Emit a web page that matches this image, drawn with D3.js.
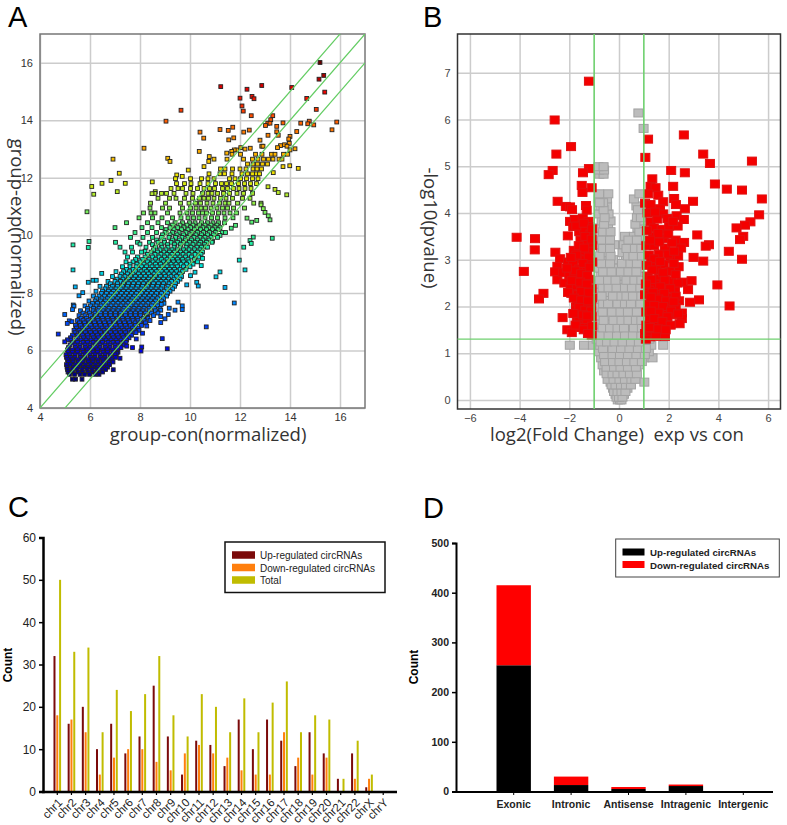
<!DOCTYPE html>
<html>
<head>
<meta charset="utf-8">
<script src="https://cdn.jsdelivr.net/npm/d3@7"></script>
<style>
  html, body { margin: 0; padding: 0; background: #fff; }
  svg { display: block; }
</style>
</head>
<body>
<svg id="chart" width="787" height="825"></svg>
<script>
  const aDense = [
    [5.0, [5.3, 5.42, 5.68]],
    [5.17, [5.18, 5.38, 5.6, 5.78, 5.98, 6.2, 6.36]],
    [5.34, [5.1, 5.28, 5.48, 5.68, 5.88, 6.08, 6.28, 6.48, 6.62]],
    [5.51, [5.06, 5.22, 5.42, 5.62, 5.82, 6.02, 6.22, 6.42, 6.62, 6.78]],
    [5.68, [5.1, 5.3, 5.5, 5.7, 5.9, 6.1, 6.3, 6.5, 6.7, 6.88]],
    [5.85, [5.04, 5.2, 5.4, 5.6, 5.8, 6.0, 6.2, 6.4, 6.6, 6.8, 7.0]],
    [6.02, [5.1, 5.3, 5.5, 5.7, 5.9, 6.1, 6.3, 6.5, 6.7, 6.9, 7.1]],
    [6.19, [5.2, 5.4, 5.6, 5.8, 6.0, 6.2, 6.4, 6.6, 6.8, 7.0, 7.2, 7.36]],
    [6.36, [5.24, 5.44, 5.64, 5.84, 6.04, 6.24, 6.44, 6.64, 6.84, 7.04, 7.24, 7.46]],
    [6.53, [5.3, 5.5, 5.7, 5.9, 6.1, 6.3, 6.5, 6.7, 6.9, 7.1, 7.3, 7.5, 7.66]],
    [6.7, [5.36, 5.56, 5.76, 5.96, 6.16, 6.36, 6.56, 6.76, 6.96, 7.16, 7.36, 7.56, 7.76, 7.96]],
    [6.87, [5.42, 5.62, 5.82, 6.02, 6.22, 6.42, 6.62, 6.82, 7.02, 7.22, 7.42, 7.62, 7.82, 8.06]],
    [7.04, [5.5, 5.72, 5.92, 6.12, 6.32, 6.52, 6.72, 6.92, 7.12, 7.32, 7.52, 7.72, 7.92, 8.16, 8.4]],
    [7.21, [5.56, 5.8, 6.02, 6.22, 6.42, 6.62, 6.82, 7.02, 7.22, 7.42, 7.62, 7.82, 8.02, 8.26, 8.54]],
    [7.38, [5.62, 5.9, 6.12, 6.32, 6.52, 6.72, 6.92, 7.12, 7.32, 7.52, 7.72, 7.92, 8.12, 8.36, 8.62]],
    [7.55, [5.8, 6.02, 6.24, 6.44, 6.64, 6.84, 7.04, 7.24, 7.44, 7.64, 7.84, 8.04, 8.24, 8.46, 8.7]],
    [7.72, [5.96, 6.2, 6.42, 6.62, 6.82, 7.02, 7.22, 7.42, 7.62, 7.82, 8.02, 8.22, 8.42, 8.62, 8.86]],
    [7.89, [6.14, 6.36, 6.58, 6.78, 6.98, 7.18, 7.38, 7.58, 7.78, 7.98, 8.18, 8.38, 8.58, 8.8, 9.06]],
    [8.06, [6.24, 6.5, 6.74, 6.94, 7.14, 7.34, 7.54, 7.74, 7.94, 8.14, 8.34, 8.54, 8.74, 8.96, 9.2]],
    [8.23, [6.4, 6.66, 6.9, 7.1, 7.3, 7.5, 7.7, 7.9, 8.1, 8.3, 8.5, 8.7, 8.9, 9.12, 9.38]],
    [8.4, [6.72, 7.0, 7.22, 7.44, 7.64, 7.84, 8.04, 8.24, 8.44, 8.64, 8.84, 9.04, 9.26, 9.5]],
    [8.57, [6.9, 7.2, 7.4, 7.62, 7.82, 8.02, 8.22, 8.42, 8.62, 8.82, 9.02, 9.24, 9.46, 9.66]],
    [8.74, [7.04, 7.34, 7.58, 7.82, 8.04, 8.26, 8.46, 8.66, 8.86, 9.06, 9.26, 9.46, 9.7]],
    [8.91, [7.3, 7.6, 7.84, 8.06, 8.26, 8.48, 8.68, 8.88, 9.08, 9.28, 9.5, 9.74, 10.0]],
    [9.08, [7.44, 7.72, 8.0, 8.3, 8.52, 8.72, 8.94, 9.14, 9.34, 9.54, 9.74, 9.96, 10.3]],
    [9.25, [7.5, 7.9, 8.2, 8.5, 8.76, 8.98, 9.2, 9.4, 9.6, 9.82, 10.06, 10.36]],
    [9.42, [7.4, 7.7, 8.06, 8.44, 8.7, 8.96, 9.18, 9.38, 9.62, 9.84, 10.08, 10.3, 10.5]],
    [9.59, [7.2, 7.66, 8.24, 8.62, 8.88, 9.12, 9.36, 9.6, 9.84, 10.04, 10.28, 10.46, 10.7]],
    [9.76, [7.02, 7.9, 8.38, 8.72, 8.98, 9.24, 9.5, 9.74, 9.98, 10.2, 10.42, 10.66, 10.88]],
    [9.93, [7.62, 8.12, 8.5, 8.86, 9.16, 9.42, 9.68, 9.92, 10.16, 10.4, 10.6, 10.84, 11.1]],
    [10.1, [7.8, 8.3, 8.66, 9.0, 9.3, 9.56, 9.84, 10.08, 10.3, 10.54, 10.78, 11.02, 11.3]],
    [10.27, [7.0, 8.08, 8.48, 8.86, 9.2, 9.5, 9.76, 10.02, 10.28, 10.52, 10.76, 11.0, 11.2]],
    [10.44, [7.46, 8.3, 8.72, 9.1, 9.4, 9.7, 9.98, 10.2, 10.46, 10.7, 10.92, 11.14, 11.38]],
    [10.61, [7.96, 8.5, 8.88, 9.3, 9.64, 9.92, 10.14, 10.36, 10.6, 10.86, 11.1, 11.4, 11.72]],
    [10.78, [8.14, 8.44, 8.6, 9.1, 9.6, 9.88, 10.1, 10.34, 10.5, 10.66, 10.9, 11.14, 11.36, 11.6, 11.86]],
    [10.95, [8.4, 8.9, 9.18, 9.7, 10.02, 10.24, 10.44, 10.62, 10.84, 11.08, 11.3, 11.5, 11.74, 12.18]],
    [11.12, [8.42, 9.02, 9.62, 9.96, 10.22, 10.42, 10.68, 10.92, 11.18, 11.4, 11.56, 11.9, 12.55, 12.84]],
    [11.29, [8.72, 9.18, 9.44, 9.78, 10.1, 10.38, 10.56, 10.74, 10.96, 11.22, 11.44, 11.7, 12.1, 12.4]],
    [11.46, [8.6, 8.86, 9.06, 9.36, 9.84, 10.12, 10.5, 10.72, 10.88, 11.1, 11.34, 11.58, 11.88, 12.14, 12.5]],
    [11.63, [9.24, 9.52, 9.7, 10.02, 10.3, 10.56, 10.78, 10.98, 11.3, 11.5, 11.74, 11.96, 12.2, 12.44]],
    [11.8, [9.46, 9.78, 10.04, 10.4, 10.72, 11.02, 11.26, 11.46, 11.66, 11.94, 12.18, 12.42, 12.66]],
    [11.97, [9.42, 10.02, 10.46, 10.72, 10.96, 11.58, 11.8, 12.02, 12.26, 12.5, 12.72]],
    [12.14, [10.76, 11.2, 11.38, 11.68, 12.08, 12.3, 12.5, 12.66, 12.78]],
    [12.31, [11.22, 11.4, 11.7, 12.0, 12.24, 12.52, 12.68, 12.86]],
    [12.48, [12.3, 12.52, 12.7, 12.9, 13.1]],
    [12.65, [11.48, 12.14, 12.5, 12.72, 12.94, 13.14, 13.32, 13.56, 13.68]],
    [12.82, [11.68, 12.02, 12.62, 12.88, 13.26, 13.4, 13.74, 13.9]]
  ]

  // panel A, the core of the band is far thicker than one layer of marks
  const aCore = [
    [5.25, [5.12, 5.3, 5.52, 5.7, 5.92, 6.1, 6.3, 6.5]],
    [5.42, [5.08, 5.34, 5.52, 5.74, 5.94, 6.14, 6.34, 6.54, 6.7]],
    [5.6, [5.14, 5.32, 5.54, 5.72, 5.94, 6.12, 6.32, 6.54, 6.76, 6.92]],
    [5.76, [5.06, 5.22, 5.4, 5.62, 5.8, 6.02, 6.2, 6.42, 6.6, 6.82, 7.02]],
    [5.94, [5.12, 5.3, 5.5, 5.72, 5.9, 6.12, 6.3, 6.52, 6.7, 6.92, 7.12]],
    [6.1, [5.14, 5.42, 5.6, 5.82, 6.0, 6.22, 6.4, 6.62, 6.8, 7.02, 7.24]],
    [6.28, [5.3, 5.5, 5.72, 5.9, 6.12, 6.32, 6.5, 6.72, 6.92, 7.1, 7.32, 7.44]],
    [6.44, [5.22, 5.52, 5.74, 5.92, 6.14, 6.34, 6.54, 6.74, 6.94, 7.14, 7.34, 7.56]],
    [6.62, [5.4, 5.62, 5.82, 6.02, 6.22, 6.42, 6.62, 6.82, 7.02, 7.22, 7.42, 7.64, 7.84]],
    [6.78, [5.46, 5.68, 5.88, 6.08, 6.28, 6.48, 6.68, 6.88, 7.08, 7.28, 7.48, 7.7, 7.92]],
    [6.96, [5.58, 5.78, 5.98, 6.18, 6.38, 6.58, 6.78, 6.98, 7.18, 7.38, 7.58, 7.8, 8.0, 8.22]],
    [7.12, [5.64, 5.86, 6.1, 6.3, 6.5, 6.7, 6.9, 7.1, 7.3, 7.5, 7.7, 7.9, 8.12, 8.32]],
    [7.3, [5.72, 5.98, 6.2, 6.42, 6.62, 6.82, 7.02, 7.22, 7.42, 7.62, 7.82, 8.02, 8.22, 8.46, 8.72]],
    [7.46, [5.9, 6.14, 6.36, 6.56, 6.76, 6.96, 7.16, 7.36, 7.56, 7.76, 7.96, 8.16, 8.36, 8.58, 8.8]],
    [7.64, [6.1, 6.3, 6.52, 6.72, 6.92, 7.12, 7.32, 7.52, 7.72, 7.92, 8.12, 8.32, 8.52, 8.74, 8.96]],
    [7.8, [6.26, 6.48, 6.7, 6.9, 7.1, 7.3, 7.5, 7.7, 7.9, 8.1, 8.3, 8.5, 8.7, 8.94]],
    [7.98, [6.46, 6.66, 6.86, 7.06, 7.26, 7.46, 7.66, 7.86, 8.06, 8.26, 8.46, 8.66, 8.86, 9.1]],
    [8.14, [6.6, 6.84, 7.04, 7.24, 7.44, 7.64, 7.84, 8.04, 8.24, 8.44, 8.64, 8.84, 9.06, 9.3]],
    [8.32, [6.82, 7.1, 7.34, 7.54, 7.74, 7.94, 8.14, 8.34, 8.54, 8.74, 8.94, 9.16, 9.42]],
    [8.48, [7.08, 7.32, 7.54, 7.74, 7.94, 8.14, 8.34, 8.54, 8.74, 8.94, 9.14, 9.36, 9.6]],
    [8.66, [7.26, 7.5, 7.72, 7.94, 8.14, 8.34, 8.56, 8.76, 8.96, 9.16, 9.36, 9.58]],
    [8.82, [7.46, 7.72, 7.96, 8.18, 8.38, 8.58, 8.78, 8.98, 9.18, 9.38, 9.6, 9.84]],
    [9.0, [7.6, 7.88, 8.16, 8.4, 8.62, 8.82, 9.04, 9.24, 9.44, 9.64, 9.86, 10.12]],
    [9.16, [7.82, 8.1, 8.36, 8.62, 8.86, 9.08, 9.3, 9.5, 9.7, 9.92, 10.18]],
    [9.34, [8.3, 8.6, 8.84, 9.08, 9.28, 9.5, 9.72, 9.96, 10.2, 10.44]],
    [9.5, [8.54, 8.8, 9.04, 9.28, 9.5, 9.74, 9.96, 10.18, 10.4]],
    [9.68, [8.5, 8.84, 9.1, 9.38, 9.62, 9.88, 10.12, 10.36, 10.58]],
    [9.84, [8.66, 8.96, 9.3, 9.58, 9.82, 10.06, 10.3, 10.52, 10.76]],
    [10.02, [8.9, 9.2, 9.48, 9.74, 10.0, 10.24, 10.46, 10.7, 10.94]],
    [10.2, [9.04, 9.36, 9.66, 9.92, 10.18, 10.42, 10.66, 10.9, 11.12]],
    [10.36, [9.3, 9.6, 9.88, 10.12, 10.38, 10.6, 10.84, 11.08]]
  ]

  // panel A, loose points away from the band: [x, y]
  const aSparse = [
    [15.2, 16.01], [15.35, 15.56], [15.16, 15.43], [15.39, 14.98], [14.07, 15.14], [12.87, 15.21], [12.28, 15.08], [11.23, 15.17],
    [12.0, 14.77], [12.48, 14.83], [12.56, 14.75], [12.08, 14.5], [12.13, 14.32], [12.45, 14.16], [14.67, 14.76], [15.05, 14.38],
    [13.31, 14.16], [13.23, 14.02], [13.11, 13.9], [13.02, 13.82], [13.2, 13.9], [13.72, 13.91], [14.43, 13.9], [14.77, 13.97],
    [14.71, 13.88], [14.95, 13.84], [15.87, 13.94], [15.68, 13.67], [9.64, 14.35], [9.04, 13.97], [10.4, 13.59], [10.55, 13.38],
    [11.2, 13.68], [11.53, 13.65], [11.71, 13.76], [11.55, 13.32], [11.75, 13.39], [12.15, 13.59], [12.37, 13.66], [13.47, 13.79],
    [13.47, 13.6], [13.53, 13.48], [13.12, 13.48], [14.27, 13.61], [14.0, 13.44], [13.95, 13.35], [13.97, 13.2], [12.8, 13.31],
    [12.87, 13.1], [12.92, 13.1], [12.41, 13.03], [12.2, 13.0], [12.03, 13.05], [11.87, 12.97], [11.77, 12.97], [11.67, 12.92],
    [11.47, 12.86], [10.37, 12.92], [8.16, 13.03], [6.92, 12.65], [9.11, 12.68], [9.2, 12.57], [10.77, 12.74], [10.75, 12.57],
    [10.96, 12.65], [10.56, 12.39], [9.93, 12.27], [9.47, 12.1], [9.69, 12.05], [7.17, 12.16], [6.84, 11.91], [6.48, 11.81],
    [6.07, 11.7], [6.15, 11.43], [7.09, 11.52], [7.41, 11.81], [5.88, 10.82], [8.49, 11.86], [8.48, 11.45], [8.61, 11.52],
    [13.72, 12.39], [13.99, 12.42], [14.33, 12.33], [13.33, 12.18], [14.0, 12.97], [14.2, 13.01], [13.5, 13.05], [13.62, 13.12],
    [13.78, 13.15], [13.88, 13.1], [13.12, 11.69], [13.4, 11.6], [13.53, 11.49], [13.87, 11.41], [12.84, 11.06], [12.93, 10.93],
    [13.0, 10.8], [13.13, 10.68], [13.2, 10.54], [12.67, 10.52], [12.47, 10.46], [12.28, 10.6], [5.32, 9.67], [5.96, 9.79],
    [5.93, 9.58], [5.32, 8.8], [5.41, 8.21], [5.93, 8.37], [6.12, 8.44], [6.25, 8.44], [6.47, 8.68], [5.56, 7.9], [5.71, 8.01],
    [5.33, 7.58], [5.36, 7.54], [5.3, 7.42], [4.99, 7.25], [5.09, 6.94], [5.17, 7.03], [5.28, 7.0], [4.73, 6.57], [4.99, 6.3],
    [5.1, 6.37], [13.29, 9.9], [12.53, 9.94], [12.4, 9.82], [12.45, 9.72], [12.15, 9.59], [11.97, 9.14], [12.2, 8.8], [11.2, 8.73],
    [11.04, 8.56], [11.4, 8.19], [11.77, 7.65], [10.65, 6.82], [10.33, 8.24], [10.27, 8.37], [9.87, 8.28], [8.89, 6.41], [9.09, 6.06],
    [6.93, 5.33], [8.07, 6.12], [8.04, 5.98], [9.69, 7.55], [9.69, 7.42], [9.4, 7.4], [9.52, 7.68], [9.17, 7.47], [9.13, 7.25],
    [9.0, 7.1], [8.83, 7.18], [8.83, 7.4], [8.85, 7.6], [8.83, 6.97], [8.27, 6.85], [8.3, 7.15], [7.2, 5.73], [7.07, 5.9], [7.47, 6.15],
    [7.7, 6.1], [7.85, 6.4], [8.1, 6.6], [10.02, 8.6], [10.2, 8.72], [10.45, 8.95], [10.5, 9.2], [10.62, 9.6], [10.9, 9.8], [11.2, 10.0],
    [11.42, 10.1], [11.65, 10.25], [11.82, 10.35], [8.0, 9.7], [8.2, 9.45]
  ]

  // panel B, not significant: [y, [x, x, ...]]
  const bGray = [
    [0.0, [-0.05, 0.04, 0.1]],
    [0.12, [-0.14, 0.06, 0.2]],
    [0.25, [-0.24, 0.02, 0.18, 0.34]],
    [0.38, [-0.34, -0.1, 0.16, 0.4, 1.02]],
    [0.5, [-0.42, -0.18, 0.06, 0.3, 0.55]],
    [0.62, [-0.6, -0.3, -0.02, 0.28, 0.62]],
    [0.75, [-0.66, -0.36, -0.1, 0.2, 0.5, 0.8]],
    [0.9, [-0.72, -0.4, -0.12, 0.14, 0.46, 0.78, 1.02, 1.35]],
    [1.03, [-0.8, -0.44, -0.1, 0.22, 0.56, 0.88, 1.2]],
    [1.17, [-1.98, -1.41, -1.05, -0.76, -0.42, -0.06, 0.28, 0.62, 0.92, 1.3, 1.78]],
    [1.3, [-0.9, -0.62, -0.3, 0.02, 0.34, 0.66, 0.92, 1.22]],
    [1.45, [-0.8, -0.5, -0.18, 0.12, 0.42, 0.78]],
    [1.62, [-0.76, -0.34, -0.04, 0.28, 0.5, 0.82]],
    [1.8, [-0.84, -0.46, -0.12, 0.2, 0.42, 0.86]],
    [1.98, [-0.78, -0.32, 0.0, 0.3, 0.6]],
    [2.15, [-0.86, -0.54, -0.16, 0.18, 0.76]],
    [2.3, [-0.76, -0.36, 0.06, 0.42, 0.62]],
    [2.48, [-0.86, -0.54, -0.24, 0.1, 0.38, 0.72]],
    [2.65, [-0.74, -0.38, -0.12, 0.2, 0.5, 0.86]],
    [2.82, [-0.8, -0.5, -0.2, 0.24, 0.56, 0.8]],
    [3.0, [-0.86, -0.56, -0.24, 0.28, 0.62, 0.86]],
    [3.15, [-0.72, -0.46, 0.14, 0.42, 0.74]],
    [3.32, [-0.84, -0.5, -0.2, 0.2, 0.48, 0.82]],
    [3.5, [-0.76, -0.48, 0.24, 0.6, 0.84]],
    [3.68, [-0.8, -0.44, 0.74, 0.9]],
    [3.83, [-0.7, -0.34, 0.76, 0.92]],
    [3.98, [-0.8, -0.42, 0.82]],
    [4.15, [-0.75, -0.48, 0.7]],
    [4.3, [-0.82, -0.48, 0.6]],
    [4.41, [-0.8, -0.43, 0.82]],
    [4.83, [-0.79, -0.62]],
    [4.92, [-0.8, -0.6]],
    [4.99, [-0.83, -0.62]],
    [5.81, [0.99]],
    [6.14, [0.78]]
  ]

  // panel B, second pass over the crowded gray column
  const bGrayFill = [
    [0.06, [-0.1, 0.0, 0.14]],
    [0.18, [-0.2, -0.06, 0.1, 0.26]],
    [0.32, [-0.3, -0.14, 0.08, 0.28, 0.48]],
    [0.44, [-0.46, -0.22, 0.02, 0.24, 0.5, 0.66]],
    [0.56, [-0.5, -0.26, -0.06, 0.18, 0.44, 0.72]],
    [0.7, [-0.5, -0.2, 0.06, 0.36, 0.68]],
    [0.82, [-0.56, -0.24, 0.02, 0.32, 0.62, 0.92]],
    [0.97, [-0.6, -0.26, 0.04, 0.36, 0.7, 1.04]],
    [1.1, [-0.64, -0.26, 0.08, 0.42, 0.76, 1.08]],
    [1.24, [-0.74, -0.48, -0.18, 0.14, 0.48, 0.8]],
    [1.38, [-0.72, -0.42, -0.08, 0.24, 0.56, 0.9]],
    [1.54, [-0.66, -0.36, -0.06, 0.2, 0.6, 0.92]],
    [1.7, [-0.62, -0.22, 0.1, 0.38, 0.68, 0.9]],
    [1.88, [-0.66, -0.28, 0.06, 0.36, 0.72]],
    [2.06, [-0.64, -0.44, -0.06, 0.24, 0.48, 0.86]],
    [2.22, [-0.7, -0.24, 0.1, 0.3, 0.56, 0.9]],
    [2.4, [-0.66, -0.42, -0.1, 0.24, 0.52, 0.86]],
    [2.56, [-0.78, -0.44, -0.14, 0.3, 0.62, 0.9]],
    [2.74, [-0.64, -0.3, 0.08, 0.38, 0.7]],
    [2.92, [-0.7, -0.36, 0.12, 0.46, 0.72]],
    [3.08, [-0.78, -0.34, 0.36, 0.58, 0.92]],
    [3.24, [-0.64, -0.36, 0.3, 0.64, 0.9]],
    [3.42, [-0.68, -0.36, 0.38, 0.72]],
    [3.6, [-0.64, -0.34, 0.82]],
    [3.76, [-0.6, 0.66]],
    [3.9, [-0.58, 0.72, 0.88]],
    [4.07, [-0.62, 0.76]],
    [4.22, [-0.64, -0.78]]
  ]

  // panel B, significant: [x, y]
  const bRed = [
    [-1.21, 6.82], [-2.59, 5.99], [-1.93, 5.42], [-2.52, 5.26], [-2.67, 4.91], [-2.83, 4.82], [-1.21, 4.95], [-1.45, 4.86],
    [-1.5, 4.59], [-1.47, 4.44], [-1.1, 4.54], [-2.47, 4.25], [-2.14, 4.14], [-1.97, 4.13], [-1.89, 4.07], [-1.33, 4.16],
    [-1.3, 4.06], [-1.97, 3.82], [-1.77, 3.86], [-1.84, 3.71], [-1.46, 3.89], [-1.23, 3.82], [-1.23, 3.71], [-4.12, 3.48],
    [-3.38, 3.45], [-3.39, 3.21], [-3.83, 2.75], [-3.04, 2.28], [-3.22, 2.16], [-2.56, 3.16], [-2.37, 3.02], [-2.48, 2.86],
    [-2.57, 2.74], [-2.48, 2.57], [-2.06, 3.51], [-2.27, 1.76], [-2.08, 1.5], [-1.9, 1.44], [-1.73, 1.99], [-1.7, 1.73],
    [-1.57, 1.89], [-1.46, 1.74], [-1.1, 1.78], [-1.6, 3.6], [-1.4, 3.65], [-1.15, 3.55], [-1.55, 3.42], [-1.3, 3.38], [-1.08, 3.3],
    [-1.82, 3.2], [-1.5, 3.15], [-1.2, 3.18], [-1.65, 3.02], [-1.35, 3.0], [-1.08, 2.95], [-2.05, 2.95], [-1.85, 2.9], [-1.6, 2.8],
    [-1.3, 2.78], [-2.25, 2.72], [-2.0, 2.65], [-1.8, 2.62], [-1.45, 2.6], [-1.18, 2.58], [-2.2, 2.5], [-1.95, 2.42], [-1.7, 2.45],
    [-1.42, 2.4], [-1.1, 2.38], [-1.92, 2.28], [-1.65, 2.25], [-1.35, 2.2], [-1.08, 2.18], [-1.7, 2.1], [-1.4, 2.05], [-1.12, 2.02],
    [-1.2, 1.9], [-1.35, 1.62], [-1.55, 1.55], [-1.2, 1.5], [-1.62, 1.78], [-1.1, 1.38], [-1.28, 1.72],
    [-1.72, 3.72], [-1.42, 3.78], [-1.08, 3.66], [-1.62, 3.3], [-1.36, 3.5], [-1.1, 3.44], [-1.4, 3.25], [-1.72, 3.1], [-1.94, 3.05],
    [-1.22, 3.06], [-1.46, 2.92], [-1.76, 2.76], [-2.1, 2.82], [-1.18, 2.84], [-1.52, 2.7], [-1.28, 2.66], [-1.9, 2.55], [-1.56, 2.52],
    [-1.3, 2.48], [-2.05, 2.3], [-1.52, 2.32], [-1.22, 2.3], [-1.82, 2.18], [-1.52, 2.14], [-1.25, 2.12], [-1.6, 1.98], [-1.36, 1.92],
    [-1.12, 1.9], [-1.84, 1.85], [-1.45, 1.82], [-1.28, 1.8], [-1.75, 1.6], [-1.42, 1.5], [-1.08, 1.58], [-1.25, 1.42],
    [1.17, 5.58], [1.06, 5.19], [2.61, 5.67], [2.1, 4.91], [2.65, 4.86], [3.39, 5.26], [3.66, 5.06], [5.35, 5.11], [3.86, 4.62],
    [4.34, 4.51], [4.95, 4.49], [5.75, 4.3], [5.64, 3.96], [5.29, 3.81], [5.07, 3.74], [4.73, 3.68], [1.34, 4.73], [1.27, 4.57],
    [1.47, 4.54], [1.18, 4.41], [1.58, 4.38], [2.18, 4.57], [2.22, 4.31], [2.29, 4.18], [2.98, 4.25], [1.78, 4.24], [1.05, 4.21],
    [1.27, 4.18], [1.65, 4.09], [2.65, 4.09], [1.78, 3.98], [2.32, 3.94], [2.61, 3.86], [1.27, 3.81], [1.54, 3.87], [3.15, 3.53],
    [3.62, 3.32], [3.49, 3.29], [3.0, 3.05], [3.39, 2.97], [3.96, 2.46], [4.45, 2.01], [4.95, 3.01], [4.42, 3.18], [5.0, 3.5],
    [4.87, 3.43], [2.92, 2.55], [2.78, 2.36], [3.22, 2.14], [2.86, 2.09], [2.53, 1.86], [2.53, 1.74], [2.44, 1.63],
    [1.4, 3.68], [1.72, 3.65], [2.02, 3.72], [2.36, 3.72], [1.38, 3.5], [1.8, 3.45], [2.28, 3.42], [2.62, 3.37], [1.1, 3.3], [1.42, 3.3],
    [1.85, 3.25], [2.5, 3.25], [2.38, 3.08], [1.2, 3.1], [1.6, 3.12], [2.06, 3.02], [1.3, 2.95], [1.8, 2.9], [2.4, 2.85], [1.5, 2.78],
    [2.04, 2.75], [1.15, 2.65], [1.62, 2.6], [2.1, 2.55], [2.55, 2.52], [1.45, 2.48], [1.85, 2.42], [2.25, 2.38], [1.2, 2.35], [1.55, 2.3],
    [1.05, 2.25], [1.42, 2.15], [1.75, 2.2], [2.08, 2.2], [2.42, 2.12], [1.2, 2.05], [1.62, 2.05], [1.95, 2.0], [2.28, 1.98], [1.1, 1.88],
    [1.42, 1.92], [1.8, 1.85], [2.18, 1.82], [1.25, 1.72], [1.58, 1.68], [1.92, 1.68], [1.1, 1.6], [1.42, 1.52], [1.72, 1.5], [1.05, 1.42],
    [1.25, 1.35], [1.48, 1.36], [1.85, 1.36], [1.08, 1.3],
    [1.15, 4.0], [1.45, 4.02], [1.95, 3.88], [2.18, 3.82], [1.12, 3.62], [1.58, 3.56], [1.98, 3.55], [2.14, 3.36], [1.62, 3.38], [1.25, 3.42],
    [1.98, 3.12], [2.22, 3.18], [1.42, 3.02], [1.66, 2.96], [2.2, 2.92], [1.12, 2.88], [1.34, 2.78], [1.78, 2.72], [2.28, 2.68], [1.3, 2.58],
    [1.84, 2.56], [2.36, 2.5], [1.08, 2.48], [1.66, 2.42], [2.06, 2.38], [1.36, 2.3], [1.82, 2.28], [2.28, 2.22], [1.58, 2.16], [1.28, 2.2],
    [1.9, 2.12], [2.2, 2.1], [1.42, 2.02], [1.78, 2.0], [2.1, 1.9], [2.38, 1.84], [1.6, 1.86], [1.28, 1.9], [1.95, 1.78], [1.42, 1.74],
    [1.75, 1.68], [2.08, 1.6], [1.25, 1.55], [1.58, 1.52], [1.88, 1.5]
  ]

  const foldOffsets = [-1, 0, 1]
  const foldLimits = [1, -1]
  const pLimit = 1.3

  const chromosomes = ['chr1', 'chr2', 'chr3', 'chr4', 'chr5', 'chr6', 'chr7', 'chr8', 'chr9', 'chr10', 'chr11', 'chr12', 'chr13', 'chr14', 'chr15', 'chr16', 'chr17', 'chr18', 'chr19', 'chr20', 'chr21', 'chr22', 'chrX', 'chrY']
  const chrUp = [32, 16, 20, 10, 16, 9, 13, 25, 13, 4, 12, 11, 6, 17, 10, 17, 12, 6, 14, 9, 3, 9, 1, 0]
  const chrDown = [18, 17, 14, 4, 8, 10, 10, 7, 5, 9, 11, 9, 8, 5, 4, 4, 14, 8, 4, 8, 0, 3, 3, 0]
  const chrTotal = [50, 33, 34, 14, 24, 19, 23, 32, 18, 13, 23, 20, 14, 22, 14, 21, 26, 14, 18, 17, 3, 12, 4, 0]
  const chrSeries = ['Up-regulated circRNAs', 'Down-regulated circRNAs', 'Total']
  const chrColors = ['#7b0a0a', '#ff7f0e', '#c0bc00']

  const regions = ['Exonic', 'Intronic', 'Antisense', 'Intragenic', 'Intergenic']
  const regionUp = [254, 13, 5, 11, 0]
  const regionDown = [161, 17, 4, 3, 0]
  const regionSeries = ['Up-regulated circRNAs', 'Down-regulated circRNAs']
  const regionColors = ['#000', '#f00']

  const svg = d3.select('#chart')
  const sans = '"Liberation Sans", Arial, sans-serif'
  const labelFont = '"Open Sans", sans-serif'

  // panel letters
  svg.selectAll('text.letter')
    .data([['A', 8, 26.5], ['B', 423, 26.5], ['C', 8, 517], ['D', 423, 518]])
    .enter().append('text')
    .attr('x', d => d[1])
    .attr('y', d => d[2])
    .attr('font-family', sans)
    .attr('font-size', 29)
    .text(d => d[0])

  // shared frame for the two scatter plots
  function drawFrame(x, y, xTicks, yTicks, frameColor, labelColor) {
    const xr = x.range(), yr = y.range()
    const g = svg.append('g')
    g.append('g')
      .attr('transform', `translate(0,${yr[0]})`)
      .call(d3.axisBottom(x).tickValues(xTicks).tickSize(yr[1] - yr[0]).tickPadding(5))
      .call(a => a.select('.domain').remove())
      .call(a => a.selectAll('line').attr('stroke', '#ccc').attr('stroke-width', 1.5))
      .call(a => a.selectAll('text').attr('font-family', sans).attr('font-size', 11).attr('fill', labelColor))
    g.append('g')
      .attr('transform', `translate(${xr[0]},0)`)
      .call(d3.axisLeft(y).tickValues(yTicks).tickSize(xr[0] - xr[1]).tickPadding(7))
      .call(a => a.select('.domain').remove())
      .call(a => a.selectAll('line').attr('stroke', '#ccc').attr('stroke-width', 1.5))
      .call(a => a.selectAll('text').attr('font-family', sans).attr('font-size', 11).attr('fill', labelColor))
    return svg.append('rect')
      .attr('x', xr[0]).attr('y', yr[1])
      .attr('width', xr[1] - xr[0]).attr('height', yr[0] - yr[1])
      .attr('fill', 'none').attr('stroke', frameColor).attr('stroke-width', 1.5)
  }

  function bigLabel(text, x, y, rotate) {
    svg.append('text')
      .attr('transform', `translate(${x},${y}) rotate(${rotate})`)
      .attr('text-anchor', 'middle')
      .attr('font-family', labelFont)
      .attr('font-size', 18.5)
      .attr('fill', '#333')
      .style('white-space', 'pre')
      .text(text)
  }

  // ---- panel A
  const xA = d3.scaleLinear().domain([4, 17]).range([40, 365])
  const yA = d3.scaleLinear().domain([4, 17]).range([408, 34])
  const colorA = d3.scaleLinear()
    .domain([5, 6, 7, 8, 9, 10, 11, 12, 13, 14, 15, 16])
    .range(['#00007a', '#0000e6', '#0050ff', '#00a4ff', '#00ead8', '#30ee90', '#88ee50', '#ecea00', '#ffa800', '#ff5a00', '#f00000', '#6a0000'])
  const aPoints = []
  aDense.concat(aCore).forEach(row => row[1].forEach(x => aPoints.push([x, row[0]])))
  aSparse.forEach(p => aPoints.push(p))
  aPoints.sort((a, b) => b[1] - a[1])

  svg.append('clipPath').attr('id', 'clipA').append('rect')
    .attr('x', 40).attr('y', 34).attr('width', 325).attr('height', 374)

  drawFrame(xA, yA, d3.range(4, 17, 2), d3.range(4, 17, 2), '#777', '#333')

  svg.append('g').selectAll('rect')
    .data(aPoints)
    .enter().append('rect')
    .attr('x', d => xA(d[0]) - 1.9)
    .attr('y', d => yA(d[1]) - 1.9)
    .attr('width', 3.8)
    .attr('height', 3.8)
    .attr('fill', d => colorA(d[1]))
    .attr('stroke', '#222')
    .attr('stroke-width', 0.9)

  svg.append('g').attr('clip-path', 'url(#clipA)').selectAll('line')
    .data(foldOffsets)
    .enter().append('line')
    .attr('x1', d => xA(4))
    .attr('y1', d => yA(4 + d))
    .attr('x2', d => xA(17))
    .attr('y2', d => yA(17 + d))
    .attr('stroke', '#62cc62')
    .attr('stroke-width', 1.2)

  bigLabel('group-con(normalized)', 208, 441, 0)
  bigLabel('group-exp(normalized)', 11, 237, 90)

  // ---- panel B
  const xB = d3.scaleLinear().domain([-6.5, 6.5]).range([457.5, 780.5])
  const yB = d3.scaleLinear().domain([-0.195, 7.83]).range([409, 34])
  const bGrayPoints = []
  bGray.concat(bGrayFill).forEach(row => row[1].forEach(x => bGrayPoints.push([x, row[0]])))

  drawFrame(xB, yB, d3.range(-6, 7, 2), d3.range(0, 8), '#333', '#444')

  svg.append('g').selectAll('rect')
    .data(bGrayPoints)
    .enter().append('rect')
    .attr('x', d => xB(d[0]) - 4.5)
    .attr('y', d => yB(d[1]) - 4)
    .attr('width', 9)
    .attr('height', 8)
    .attr('fill', '#bcbcbc')
    .attr('stroke', '#a2a2a2')

  svg.append('g').selectAll('rect')
    .data(bRed)
    .enter().append('rect')
    .attr('x', d => xB(d[0]) - 4.5)
    .attr('y', d => yB(d[1]) - 4)
    .attr('width', 9)
    .attr('height', 8)
    .attr('fill', '#f40000')
    .attr('stroke', '#e01010')

  svg.append('g').selectAll('line')
    .data(foldLimits)
    .enter().append('line')
    .attr('x1', d => xB(d)).attr('x2', d => xB(d))
    .attr('y1', yB.range()[0]).attr('y2', yB.range()[1])
    .attr('stroke', '#6fd06f').attr('stroke-width', 1.6)
  svg.append('line')
    .attr('x1', xB.range()[0]).attr('x2', xB.range()[1])
    .attr('y1', yB(pLimit)).attr('y2', yB(pLimit))
    .attr('stroke', '#6fd06f').attr('stroke-width', 1.2)

  bigLabel('log2(Fold Change)  exp vs con', 617, 441, 0)
  bigLabel('-log10(pvalue)', 424, 228, 90)

  // legend box used by C and D
  function drawLegend(box, names, colors, textX, swatch, rowY, fontSize, weight, strokeColor, strokeWidth) {
    const g = svg.append('g')
    g.append('rect')
      .attr('x', box[0]).attr('y', box[1]).attr('width', box[2]).attr('height', box[3])
      .attr('fill', '#fff').attr('stroke', strokeColor).attr('stroke-width', strokeWidth)
    const rows = g.selectAll('g').data(names).enter().append('g')
      .attr('transform', (d, i) => `translate(0,${rowY + i * swatch[2]})`)
    rows.append('rect')
      .attr('x', swatch[0]).attr('y', -swatch[3] / 2)
      .attr('width', swatch[1]).attr('height', swatch[3])
      .attr('fill', (d, i) => colors[i])
    rows.append('text')
      .attr('x', textX).attr('y', 4)
      .attr('font-family', sans).attr('font-size', fontSize).attr('font-weight', weight)
      .attr('fill', '#222')
      .text(d => d)
  }

  function countLabel(x, y) {
    svg.append('text')
      .attr('transform', `translate(${x},${y}) rotate(-90)`)
      .attr('text-anchor', 'middle')
      .attr('font-family', sans).attr('font-size', 12).attr('font-weight', 'bold')
      .text('Count')
  }

  // ---- panel C
  const xC = d3.scaleBand().domain(chromosomes).range([50.2, 390.3])
  const subC = d3.scaleBand().domain(chrSeries).range([-4.2, 4.2])
  const yC = d3.scaleLinear().domain([0, 60]).range([791.5, 537.5])
  const chrValues = [chrUp, chrDown, chrTotal]

  chrSeries.forEach((name, s) => {
    svg.append('g').selectAll('rect')
      .data(chrValues[s])
      .enter().append('rect')
      .attr('x', (d, i) => xC(chromosomes[i]) + xC.bandwidth() / 2 + subC(name) + 0.4)
      .attr('y', d => yC(d))
      .attr('width', 2)
      .attr('height', d => yC(0) - yC(d))
      .attr('fill', chrColors[s])
  })

  svg.append('g')
    .attr('transform', 'translate(43,0)')
    .call(d3.axisLeft(yC).tickValues(d3.range(0, 61, 10)).tickSize(4).tickPadding(3))
    .call(a => a.select('.domain').attr('stroke', '#000').attr('stroke-width', 2.5))
    .call(a => a.selectAll('line').attr('stroke', '#000').attr('stroke-width', 1.5))
    .call(a => a.selectAll('text').attr('font-family', sans).attr('font-size', 12).attr('fill', '#222').style('-webkit-text-stroke', '0.2px #222'))

  svg.append('g')
    .attr('transform', 'translate(0,792)')
    .call(d3.axisBottom(xC).tickSize(3).tickSizeOuter(0))
    .call(a => a.select('.domain').attr('d', 'M42,0H397').attr('stroke', '#000').attr('stroke-width', 2.5))
    .call(a => a.selectAll('line').attr('stroke', '#000').attr('stroke-width', 1.2))
    .call(a => a.selectAll('text')
      .attr('font-family', sans).attr('font-size', 11.5).attr('fill', '#222')
      .style('-webkit-text-stroke', '0.2px #222')
      .attr('text-anchor', 'end')
      .attr('transform', 'rotate(-45)')
      .attr('x', -4).attr('y', 8).attr('dy', '0.35em'))

  countLabel(12, 665)
  drawLegend([225, 542, 160, 50.5], chrSeries, chrColors, 260, [232, 23, 12.5, 7.5], 555, 10, 'normal', '#111', 1.5)

  // ---- panel D
  const xD = d3.scaleBand().domain(regions).range([485, 772])
  const yD = d3.scaleLinear().domain([0, 500]).range([791.5, 543])
  const stackD = d3.stack().keys(regionSeries)(regions.map((r, i) => ({
    [regionSeries[0]]: regionUp[i],
    [regionSeries[1]]: regionDown[i]
  })))

  stackD.forEach((layer, s) => {
    svg.append('g').selectAll('rect')
      .data(layer)
      .enter().append('rect')
      .attr('x', (d, i) => xD(regions[i]) + xD.bandwidth() / 2 - 17.2)
      .attr('y', d => yD(d[1]))
      .attr('width', 34.4)
      .attr('height', d => yD(d[0]) - yD(d[1]))
      .attr('fill', regionColors[s])
  })

  svg.append('g')
    .attr('transform', 'translate(456,0)')
    .call(d3.axisLeft(yD).tickValues(d3.range(0, 501, 100)).tickSize(4).tickPadding(3))
    .call(a => a.select('.domain').attr('stroke', '#000').attr('stroke-width', 2))
    .call(a => a.selectAll('line').attr('stroke', '#000').attr('stroke-width', 1.5))
    .call(a => a.selectAll('text').attr('font-family', sans).attr('font-size', 10.5).attr('font-weight', 'bold').attr('fill', '#222'))

  svg.append('g')
    .attr('transform', 'translate(0,792)')
    .call(d3.axisBottom(xD).tickSize(3).tickSizeOuter(0).tickPadding(6))
    .call(a => a.select('.domain').attr('d', 'M455,0H773').attr('stroke', '#000').attr('stroke-width', 2))
    .call(a => a.selectAll('line').attr('stroke', '#000').attr('stroke-width', 1))
    .call(a => a.selectAll('text').attr('font-family', sans).attr('font-size', 10.5).attr('font-weight', 'bold').attr('fill', '#222'))

  countLabel(418, 667)
  drawLegend([615.7, 539, 163.6, 38], regionSeries, regionColors, 650, [622.5, 22, 12.5, 7], 552, 9.7, 'bold', '#444', 1)
</script>
</body>
</html>
